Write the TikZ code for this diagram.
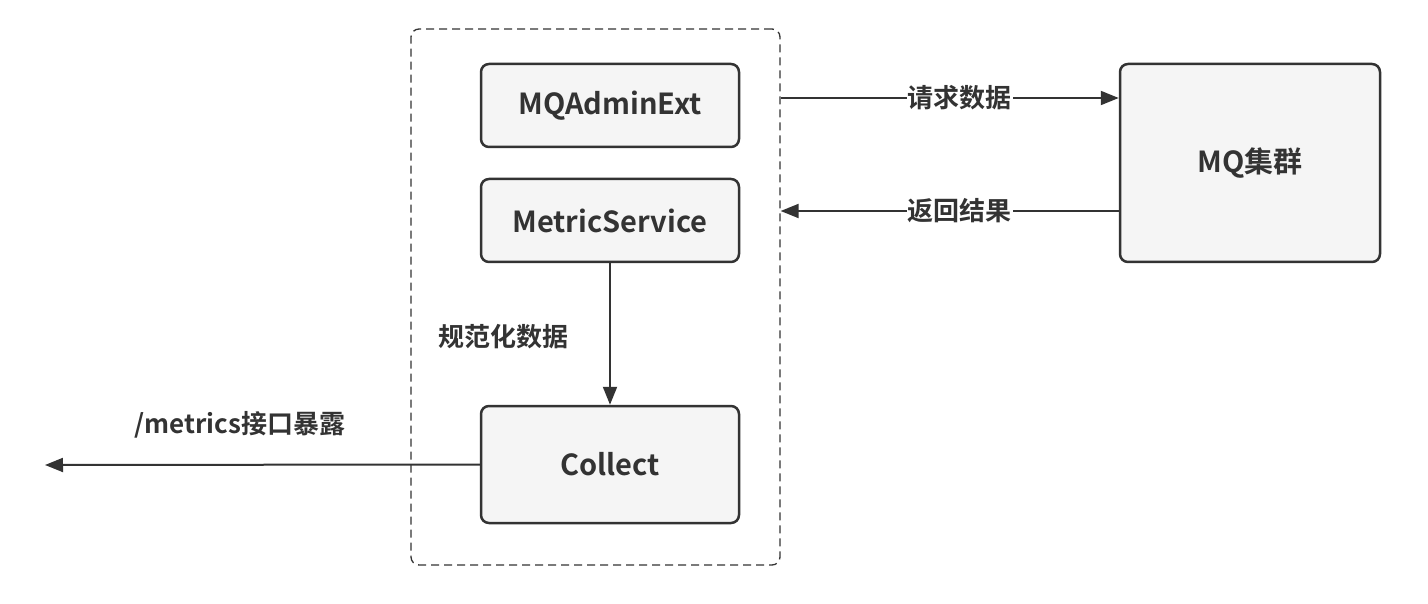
\documentclass[tikz,border=0pt]{standalone}
\usepackage{fontspec}
\setmainfont{Noto Sans CJK SC}[BoldFont={* Bold}]
\usetikzlibrary{arrows.meta}
\definecolor{ink}{HTML}{333333}
\definecolor{boxfill}{HTML}{F5F5F5}
\tikzset{
  box/.style={draw=ink, fill=boxfill, line width=2.5pt, rounded corners=8pt,
    minimum width=258pt, text=ink, font=\fontsize{29}{34}\selectfont\bfseries, inner sep=0pt},
  container/.style={draw=ink, dash pattern=on 8pt off 5pt, line width=1.3pt, rounded corners=8pt, inner sep=0pt},
  conn/.style={draw=ink, line width=2pt, -{Triangle[length=18pt,width=14pt]}},
  lbltext/.style={text=ink, font=\fontsize{26}{30}\selectfont\bfseries},
  lbl/.style={lbltext, fill=white, inner sep=1pt}
}
\begin{document}
\begin{tikzpicture}[x=1pt,y=-1pt]
\useasboundingbox (0,0) rectangle (1428,604);
\node[container, minimum width=369pt, minimum height=536pt] (cont) at (595.5,297) {};
\node[box, minimum height=83pt] (admin) at (610,105.5) {MQAdminExt};
\node[box, minimum height=83pt] (metric) at (610,220.5) {MetricService};
\node[box, minimum height=117pt] (collect) at (610,464.5) {Collect};
\node[box, minimum width=260pt, minimum height=198pt] (mq) at (1250,163) {MQ集群};
\coordinate (out) at (45,465);
\draw[conn] (cont.east |- 0,98) -- node[lbl, pos=0.53] {请求数据} (mq.west |- 0,98);
\draw[conn] (mq.west |- 0,211) -- node[lbl, pos=0.47] {返回结果} (cont.east |- 0,211);
\draw[conn] (metric.south) -- (collect.north);
\node[lbltext] (norm) at (503,337) {规范化数据};
\draw[conn] (collect.west) -- (out);
\node[lbltext] (expose) at (240,425) {/metrics接口暴露};
\end{tikzpicture}
\end{document}
